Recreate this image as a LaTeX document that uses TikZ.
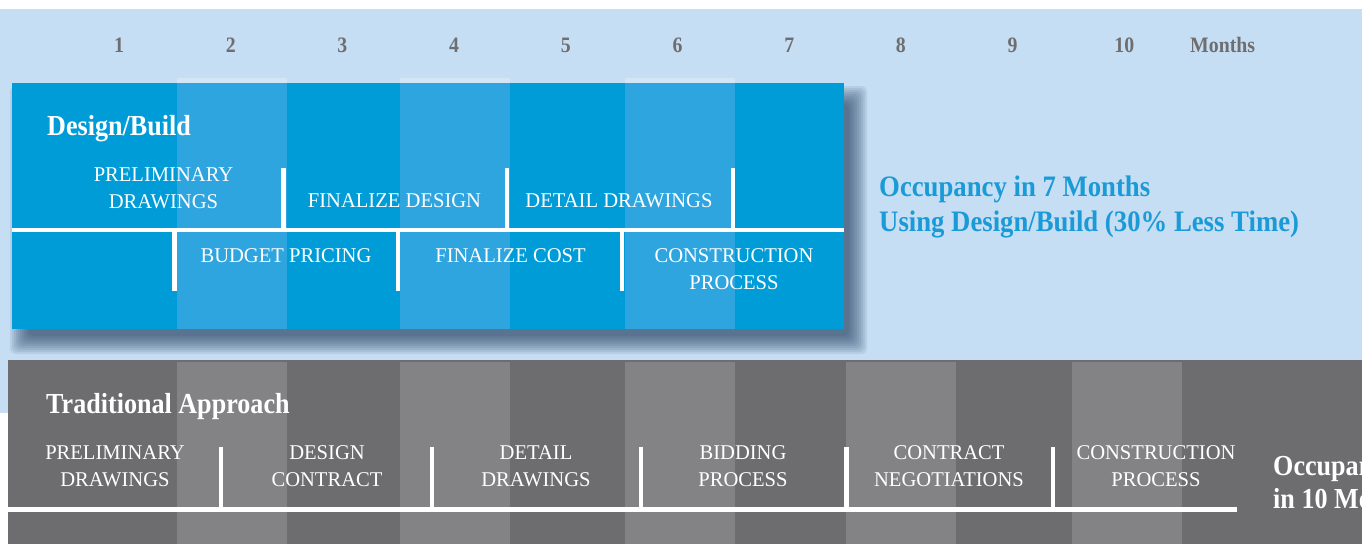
\documentclass[tikz,border=0pt]{standalone}
\usepackage{fontspec}
\setmainfont{Liberation Serif}
\newfontfamily\labfont{Liberation Serif}[FakeStretch=0.98]
\newfontfamily\headfont{Liberation Serif}[FakeStretch=0.9]
\definecolor{bgblue}{HTML}{C6DEF3}
\definecolor{panelblue}{HTML}{009CD8}
\definecolor{stripeblue}{HTML}{2FA5E0}
\definecolor{stripetop}{HTML}{D2E6F6}
\definecolor{gdark}{HTML}{6D6D70}
\definecolor{glight}{HTML}{838385}
\definecolor{monthgray}{HTML}{6E6E70}
\definecolor{textblue}{HTML}{1A9AD6}
\definecolor{shadowc}{HTML}{1F3A5A}
\tikzset{
  wline/.style={white, line width=4.5pt, line cap=butt},
  lab/.style={text=white, font=\labfont\fontsize{21}{27}\selectfont, align=center, inner sep=0pt},
  head/.style={text=white, font=\headfont\bfseries\fontsize{29}{34}\selectfont, inner sep=0pt, anchor=base west},
  month/.style={text=monthgray, font=\headfont\bfseries\fontsize{22}{26}\selectfont, inner sep=0pt, anchor=base},
  occ/.style={text=textblue, font=\headfont\bfseries\fontsize{29.7}{34}\selectfont, inner sep=0pt, anchor=base west},
}
\begin{document}
\begin{tikzpicture}[x=1pt,y=-1pt]
\useasboundingbox (0,0) rectangle (1362,544);
\fill[white] (0,0) rectangle (1362,544);
\fill[bgblue] (0,9) rectangle (1362,413);

% month scale
\foreach \m in {1,...,10}{
  \node[month] (m\m) at ({119+(\m-1)*111.7},52.7) {\m};
}
\node[month, anchor=base west] (months) at (1190,52.7) {Months};

% shadow of the design/build panel
\foreach \k in {0,...,9}{
  \fill[shadowc, opacity=0.095, rounded corners=6pt] ({10+2*\k},{86+2*\k}) rectangle ({867-2*\k},{354-2*\k});
}

% design/build panel
\foreach \a/\b in {177/287,400/510,625/735}{
  \fill[stripetop] (\a,78) rectangle (\b,83);
}
\fill[panelblue] (12,83) rectangle (844,329);
\foreach \a/\b in {177/287,400/510,625/735}{
  \fill[stripeblue] (\a,83) rectangle (\b,329);
}

\coordinate (bl) at (12,230);
\coordinate (br) at (844,230);
\draw[wline] (bl) -- (br);
\foreach \x/\n in {283.5/u1,507/u2,733/u3}{
  \coordinate (\n) at (\x,168);
  \draw[wline] (\n) -- (\n |- bl);
}
\foreach \x/\n in {174.5/d1,398/d2,622/d3}{
  \coordinate (\n) at (\x,291);
  \draw[wline] (\n) -- (\n |- bl);
}

\node[head] (db) at (47,135) {Design/Build};
\node[lab] (dbprelim) at (163.5,188) {PRELIMINARY\\DRAWINGS};
\node[lab] (dbfinal) at (394.5,201) {FINALIZE DESIGN};
\node[lab] (dbdetail) at (619,201) {DETAIL DRAWINGS};
\node[lab] (dbbudget) at (286,256) {BUDGET PRICING};
\node[lab] (dbcost) at (510.5,256) {FINALIZE COST};
\node[lab] (dbconst) at (734,269.5) {CONSTRUCTION\\PROCESS};

\node[occ] (occ1) at (879,196.7) {Occupancy in 7 Months};
\node[occ] (occ2) at (879,231.7) {Using Design/Build (30\% Less Time)};

% traditional panel
\fill[gdark] (8,360) rectangle (1362,544);
\foreach \a/\b in {177/287,400/510,625/735,846/956,1072/1182}{
  \fill[glight] (\a,362) rectangle (\b,544);
}
\coordinate (tl) at (8,509.5);
\coordinate (tr) at (1237,509.5);
\draw[wline] (tl) -- (tr);
\foreach \x/\n in {221/g1,432/g2,641/g3,846.5/g4,1053/g5}{
  \coordinate (\n) at (\x,447);
  \draw[wline] (\n) -- (\n |- tl);
}

\node[head] (ta) at (46,413) {Traditional Approach};
\node[lab] (tprelim) at (115,466) {PRELIMINARY\\DRAWINGS};
\node[lab] (tdesign) at (327,466) {DESIGN\\CONTRACT};
\node[lab] (tdetail) at (536,466) {DETAIL\\DRAWINGS};
\node[lab] (tbid) at (743,466) {BIDDING\\PROCESS};
\node[lab] (tneg) at (949,466) {CONTRACT\\NEGOTIATIONS};
\node[lab] (tconst) at (1156,466) {CONSTRUCTION\\PROCESS};

% the reference cuts this text off at its right edge
\begin{scope}
  \clip (0,0) rectangle (1362,544);
  \node[head] (tocc1) at (1273,475) {Occupancy};
  \node[head] (tocc2) at (1273,508) {in 10 Months};
\end{scope}
\end{tikzpicture}
\end{document}
